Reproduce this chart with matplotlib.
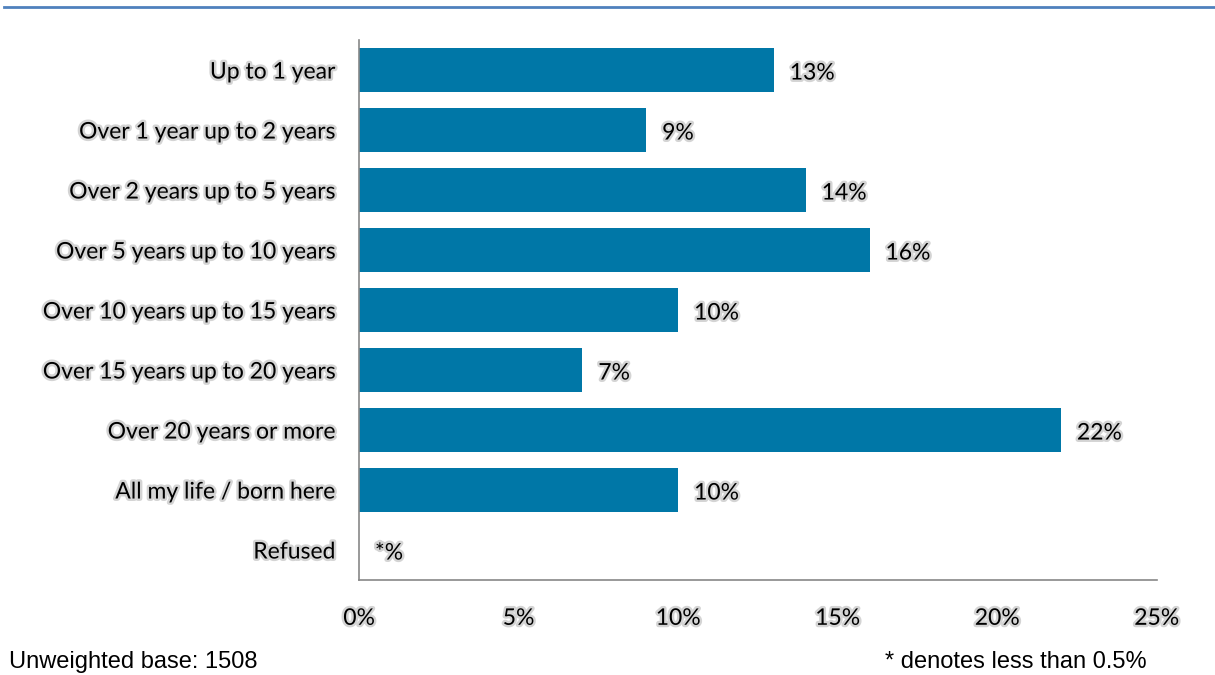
import matplotlib.pyplot as plt
import matplotlib.patheffects as pe
from matplotlib.lines import Line2D

categories = ['Up to 1 year', 'Over 1 year up to 2 years', 'Over 2 years up to 5 years',
              'Over 5 years up to 10 years', 'Over 10 years up to 15 years',
              'Over 15 years up to 20 years', 'Over 20 years or more',
              'All my life / born here', 'Refused']
values = [13, 9, 14, 16, 10, 7, 22, 10, 0]
value_labels = ['13%', '9%', '14%', '16%', '10%', '7%', '22%', '10%', '*%']
xticks = [0, 5, 10, 15, 20, 25]

glow = [pe.withStroke(linewidth=3.5, foreground='#d4d4d4')]
font = 'Lato'
fs = 16.5

fig = plt.figure(figsize=(12.15, 6.75), dpi=100)
ax = fig.add_axes([0.2955, 0.1407, 0.6565, 0.8])

y = list(range(len(categories)))
ax.barh(y, values, height=0.72, color='#0077a7')
for yi, v, lab in zip(y, values, value_labels):
    ax.text(v + 0.5, yi + 0.05, lab, va='center', ha='left', fontsize=fs, family=font,
            path_effects=glow)

ax.set_ylim(8.5, -0.5)
ax.set_xlim(0, 25)
ax.set_yticks(y)
ax.set_yticklabels(categories, fontsize=fs, family=font)
for t in ax.get_yticklabels():
    t.set_path_effects(glow)
ax.set_xticks(xticks)
ax.set_xticklabels([f'{t}%' for t in xticks], fontsize=fs, family=font)
for t in ax.get_xticklabels():
    t.set_path_effects(glow)
ax.tick_params(axis='y', length=0, pad=17)
ax.tick_params(axis='x', length=0, pad=20)
for s in ['top', 'right']:
    ax.spines[s].set_visible(False)
ax.spines['left'].set_color('#888888')
ax.spines['bottom'].set_color('#888888')
ax.spines['left'].set_linewidth(1.2)
ax.spines['bottom'].set_linewidth(1.2)

fig.add_artist(Line2D([0.003, 1.0], [0.989, 0.989], color='#4f81bd', linewidth=2))
fig.text(0.007, 0.019, 'Unweighted base: 1508', fontsize=17, va='center', family='Liberation Sans')
fig.text(0.728, 0.019, '* denotes less than 0.5%', fontsize=17, va='center', family='Liberation Sans')

fig.savefig('out.png', dpi=100)
